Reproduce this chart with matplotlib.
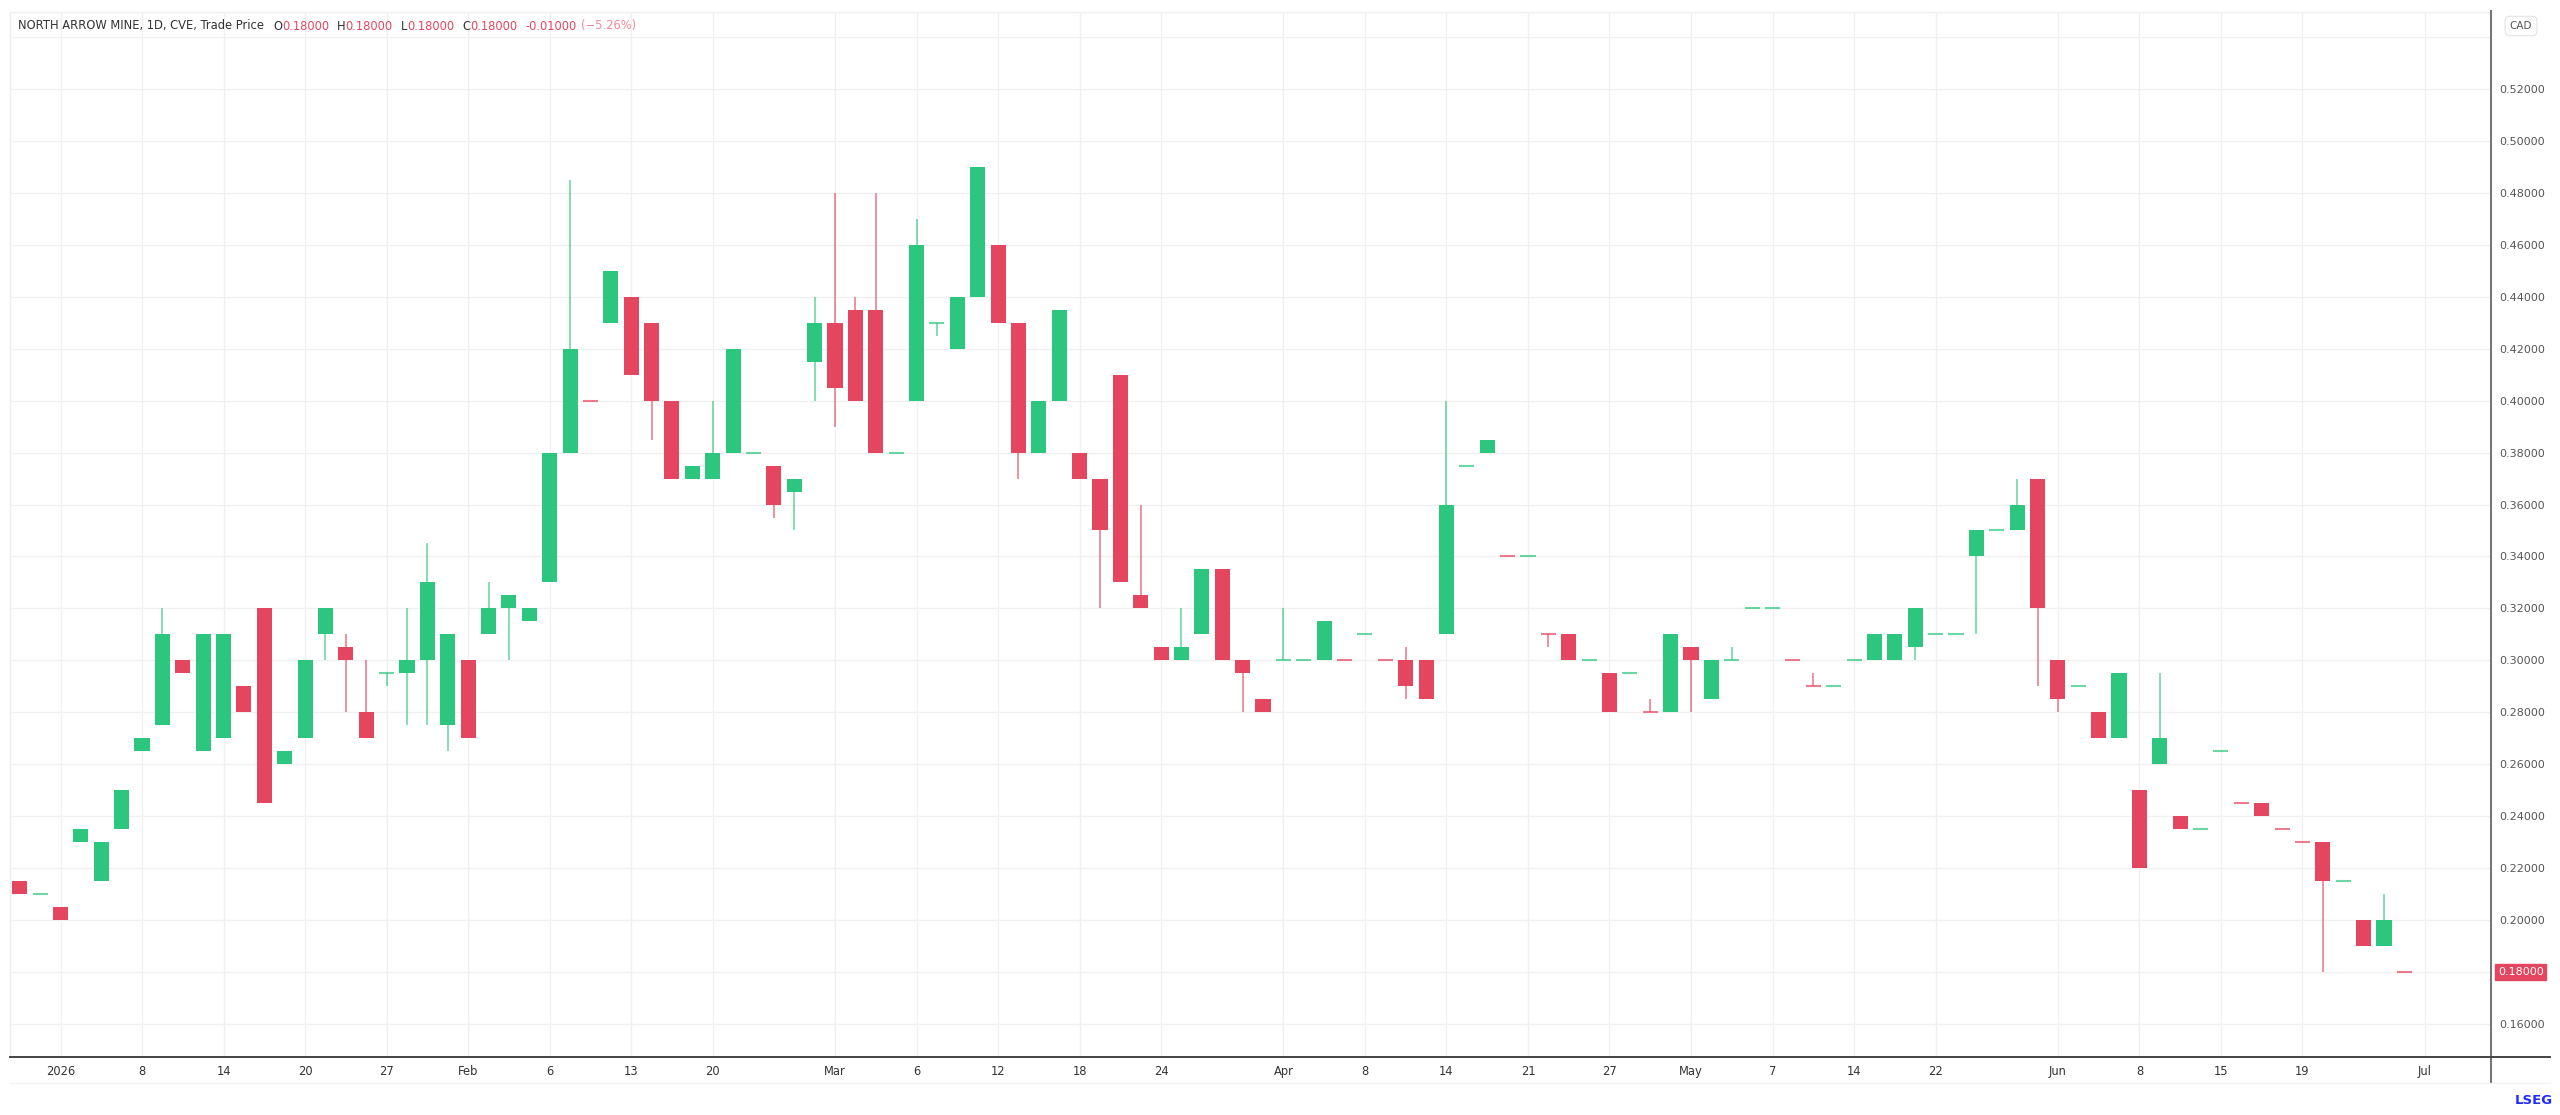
import matplotlib
matplotlib.use("Agg")
import matplotlib.pyplot as plt
from matplotlib import font_manager
from matplotlib.lines import Line2D
import numpy as np

# daily bars (only the days with trades)
opens = [0.215, 0.210, 0.205, 0.230, 0.215, 0.235, 0.265, 0.275, 0.300, 0.265,
         0.270, 0.290, 0.320, 0.260, 0.270, 0.310, 0.305, 0.280, 0.295, 0.295,
         0.300, 0.275, 0.300, 0.310, 0.320, 0.315, 0.330, 0.380, 0.400, 0.430,
         0.440, 0.430, 0.400, 0.370, 0.370, 0.380, 0.380, 0.375, 0.365, 0.415,
         0.430, 0.435, 0.435, 0.380, 0.400, 0.430, 0.420, 0.440, 0.460, 0.430,
         0.380, 0.400, 0.380, 0.370, 0.410, 0.325, 0.305, 0.300, 0.310, 0.335,
         0.300, 0.285, 0.300, 0.300, 0.300, 0.300, 0.310, 0.300, 0.300, 0.300,
         0.310, 0.375, 0.380, 0.340, 0.340, 0.310, 0.310, 0.300, 0.295, 0.295,
         0.280, 0.280, 0.305, 0.285, 0.300, 0.320, 0.320, 0.300, 0.290, 0.290,
         0.300, 0.300, 0.300, 0.305, 0.310, 0.310, 0.340, 0.350, 0.350, 0.370,
         0.300, 0.290, 0.280, 0.270, 0.250, 0.260, 0.240, 0.235, 0.265, 0.245,
         0.245, 0.235, 0.230, 0.230, 0.215, 0.200, 0.190, 0.180]
highs = [0.215, 0.210, 0.205, 0.235, 0.230, 0.250, 0.270, 0.320, 0.300, 0.310,
         0.310, 0.290, 0.320, 0.265, 0.300, 0.320, 0.310, 0.300, 0.295, 0.320,
         0.345, 0.310, 0.300, 0.330, 0.325, 0.320, 0.380, 0.485, 0.400, 0.450,
         0.440, 0.430, 0.400, 0.375, 0.400, 0.420, 0.380, 0.375, 0.370, 0.440,
         0.480, 0.440, 0.480, 0.380, 0.470, 0.430, 0.440, 0.490, 0.460, 0.430,
         0.400, 0.435, 0.380, 0.370, 0.410, 0.360, 0.305, 0.320, 0.335, 0.335,
         0.300, 0.285, 0.320, 0.300, 0.315, 0.300, 0.310, 0.300, 0.305, 0.300,
         0.400, 0.375, 0.385, 0.340, 0.340, 0.310, 0.310, 0.300, 0.295, 0.295,
         0.285, 0.310, 0.305, 0.300, 0.305, 0.320, 0.320, 0.300, 0.295, 0.290,
         0.300, 0.310, 0.310, 0.320, 0.310, 0.310, 0.350, 0.350, 0.370, 0.370,
         0.300, 0.290, 0.280, 0.295, 0.250, 0.295, 0.240, 0.235, 0.265, 0.245,
         0.245, 0.235, 0.230, 0.230, 0.215, 0.200, 0.210, 0.180]
lows = [0.210, 0.210, 0.200, 0.230, 0.215, 0.235, 0.265, 0.275, 0.295, 0.265,
        0.270, 0.280, 0.245, 0.260, 0.270, 0.300, 0.280, 0.270, 0.290, 0.275,
        0.275, 0.265, 0.270, 0.310, 0.300, 0.315, 0.330, 0.380, 0.400, 0.430,
        0.410, 0.385, 0.370, 0.370, 0.370, 0.380, 0.380, 0.355, 0.350, 0.400,
        0.390, 0.400, 0.380, 0.380, 0.400, 0.425, 0.420, 0.440, 0.430, 0.370,
        0.380, 0.400, 0.370, 0.320, 0.330, 0.320, 0.300, 0.300, 0.310, 0.300,
        0.280, 0.280, 0.300, 0.300, 0.300, 0.300, 0.310, 0.300, 0.285, 0.285,
        0.310, 0.375, 0.380, 0.340, 0.340, 0.305, 0.300, 0.300, 0.280, 0.295,
        0.280, 0.280, 0.280, 0.285, 0.300, 0.320, 0.320, 0.300, 0.290, 0.290,
        0.300, 0.300, 0.300, 0.300, 0.310, 0.310, 0.310, 0.350, 0.350, 0.290,
        0.280, 0.290, 0.270, 0.270, 0.220, 0.260, 0.235, 0.235, 0.265, 0.245,
        0.240, 0.235, 0.230, 0.180, 0.215, 0.190, 0.190, 0.180]
closes = [0.210, 0.210, 0.200, 0.235, 0.230, 0.250, 0.270, 0.310, 0.295, 0.310,
          0.310, 0.280, 0.245, 0.265, 0.300, 0.320, 0.300, 0.270, 0.295, 0.300,
          0.330, 0.310, 0.270, 0.320, 0.325, 0.320, 0.380, 0.420, 0.400, 0.450,
          0.410, 0.400, 0.370, 0.375, 0.380, 0.420, 0.380, 0.360, 0.370, 0.430,
          0.405, 0.400, 0.380, 0.380, 0.460, 0.430, 0.440, 0.490, 0.430, 0.380,
          0.400, 0.435, 0.370, 0.350, 0.330, 0.320, 0.300, 0.305, 0.335, 0.300,
          0.295, 0.280, 0.300, 0.300, 0.315, 0.300, 0.310, 0.300, 0.290, 0.285,
          0.360, 0.375, 0.385, 0.340, 0.340, 0.310, 0.300, 0.300, 0.280, 0.295,
          0.280, 0.310, 0.300, 0.300, 0.300, 0.320, 0.320, 0.300, 0.290, 0.290,
          0.300, 0.310, 0.310, 0.320, 0.310, 0.310, 0.350, 0.350, 0.360, 0.320,
          0.285, 0.290, 0.270, 0.295, 0.220, 0.270, 0.235, 0.235, 0.265, 0.245,
          0.240, 0.235, 0.230, 0.215, 0.215, 0.190, 0.200, 0.180]
# bars with open == close that are still drawn red
flat_down = [28, 65, 67, 73, 75, 80, 87, 88, 109, 111, 112, 117]

# date labels and the bar they sit on
xtick_pos = [2, 6, 10, 14, 18, 22, 26, 30, 34, 40, 44, 48, 52, 56,
             62, 66, 70, 74, 78, 82, 86, 90, 94, 100, 104, 108, 112, 118]
xtick_labels = ["2026", "8", "14", "20", "27", "Feb", "6", "13", "20", "Mar", "6", "12", "18", "24",
                "Apr", "8", "14", "21", "27", "May", "7", "14", "22", "Jun", "8", "15", "19", "Jul"]

price_ticks = [0.16, 0.18, 0.20, 0.22, 0.24, 0.26, 0.28, 0.30, 0.32, 0.34,
               0.36, 0.38, 0.40, 0.42, 0.44, 0.46, 0.48, 0.50, 0.52, 0.54]

title_text = "NORTH ARROW MINE, 1D, CVE, Trade Price"
change_abs = -0.01
change_pct = -5.26

UP = "#2dc67f"
DOWN = "#e4465f"
DARK = "#333333"

names = {f.name for f in font_manager.fontManager.ttflist}
if "Liberation Sans Narrow" in names:
    NARROW, HSIZE, XSIZE = "Liberation Sans Narrow", 10.5, 10.5
else:
    NARROW, HSIZE, XSIZE = "DejaVu Sans", 8.3, 8.3

W, H = 2560, 1115
fig = plt.figure(figsize=(W / 100, H / 100), dpi=100)
fig.patch.set_facecolor("white")

# plot area in pixels: x 10..2491, y 12..1057
ax = fig.add_axes([10 / W, 1 - 1057 / H, (2491 - 10) / W, (1057 - 12) / H])
ax.set_xlim(-0.478, 121.25)
ax.set_ylim(0.14726, 0.54965)

o = np.array(opens)
h = np.array(highs)
l = np.array(lows)
c = np.array(closes)
x = np.arange(len(o))
flat = c == o
is_down = (c < o) | (flat & np.isin(x, flat_down))
cols = np.where(is_down, DOWN, UP)

ax.vlines(x, l, h, colors=cols, linewidth=1.1, alpha=0.75, zorder=2)
body = ~flat
ax.bar(x[body], np.abs(c - o)[body], bottom=np.minimum(o, c)[body], width=0.74,
       color=cols[body], edgecolor="none", zorder=3)
ax.hlines(c[flat], x[flat] - 0.37, x[flat] + 0.37, colors=cols[flat],
          linewidth=1.5, alpha=0.7, zorder=3)

# grid
for p in price_ticks:
    ax.axhline(p, color="#f0f0f0", linewidth=1.0, zorder=0)
for xp in xtick_pos:
    ax.axvline(xp, color="#f0f0f0", linewidth=1.0, zorder=0)

# x axis labels
ax.set_xticks(xtick_pos)
ax.set_xticklabels(xtick_labels, fontsize=XSIZE, color=DARK, family=NARROW)
ax.tick_params(axis="x", length=0, pad=6)

# price axis on the right, last price gets its own red tag
last_close = closes[-1]
ax.yaxis.tick_right()
ax.set_yticks(price_ticks[:-1])
ax.set_yticklabels(["" if abs(p - last_close) < 1e-9 else "%.5f" % p for p in price_ticks[:-1]],
                   fontsize=8, color="#555555")
ax.tick_params(axis="y", length=0, pad=6)

for side in ["top", "left"]:
    ax.spines[side].set_color("#eeeeee")
    ax.spines[side].set_linewidth(1.0)
ax.spines["right"].set_visible(False)
ax.spines["bottom"].set_color("#444444")
ax.spines["bottom"].set_linewidth(1.4)

# right axis separator and bottom line extension
fig.add_artist(Line2D([2491 / W, 2491 / W], [1 - 11 / H, 1 - 1083 / H], color="#777777", linewidth=1.5))
fig.add_artist(Line2D([2491 / W, 2550 / W], [1 - 1057 / H, 1 - 1057 / H], color="#444444", linewidth=1.4))
fig.add_artist(Line2D([10 / W, 2550 / W], [1 - 1083 / H, 1 - 1083 / H], color="#f2f2f2", linewidth=1.0))

ax.annotate("%.5f" % last_close, xy=(1.0, last_close), xycoords=("axes fraction", "data"),
            xytext=(5, 0), textcoords="offset points", ha="left", va="center",
            fontsize=8, color="white",
            bbox=dict(boxstyle="square,pad=0.25", facecolor=DOWN, edgecolor=DOWN))

fig.text(2521 / W, 1 - 26 / H, "CAD", fontsize=7.5, color="#555555", ha="center", va="center",
         bbox=dict(boxstyle="round,pad=0.45", facecolor="white", edgecolor="#e3e3e3", linewidth=0.8))

fig.text(2553 / W, 1 - 1100 / H, "LSEG", fontsize=9.5, color="#1f2bff", fontweight="bold",
         ha="right", va="center")

# header line, pieces placed one after another
renderer = fig.canvas.get_renderer()
pieces = [(title_text, DARK, 9),
          ("O", DARK, 0), ("%.5f" % opens[-1], DOWN, 8),
          ("H", DARK, 0), ("%.5f" % highs[-1], DOWN, 8),
          ("L", DARK, 0), ("%.5f" % lows[-1], DOWN, 8),
          ("C", DARK, 0), ("%.5f" % closes[-1], DOWN, 8),
          ("%.5f" % change_abs, DOWN, 4),
          ("(\u2212%.2f%%)" % abs(change_pct), "#ef8a9a", 0)]
xpix = 18
for s, col, gap in pieces:
    t = fig.text(xpix / W, 1 - 26 / H, s, color=col, fontsize=HSIZE, family=NARROW,
                 ha="left", va="center")
    xpix += t.get_window_extent(renderer).width + gap

fig.savefig("out.png", dpi=100, facecolor="white")
